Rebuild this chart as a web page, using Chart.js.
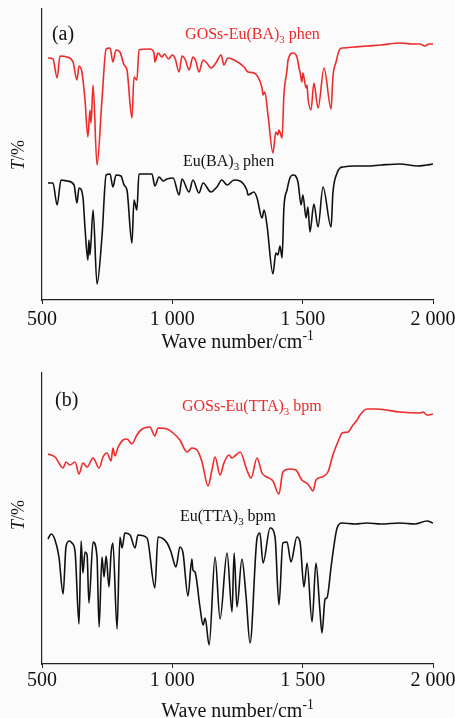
<!DOCTYPE html>
<html>
<head>
<meta charset="utf-8">
<script src="https://cdn.jsdelivr.net/npm/chart.js@4.4.0/dist/chart.umd.min.js"></script>
<style>
  html, body { margin: 0; padding: 0; background: #fbfbfb; }
  #wrap { position: relative; width: 455px; height: 718px; overflow: hidden; }
  canvas { position: absolute; left: 0; }
</style>
</head>
<body>
<div id="wrap">
  <canvas id="chartA" width="455" height="358" style="top:0px"></canvas>
  <canvas id="chartB" width="455" height="360" style="top:358px"></canvas>
</div>
<script>
// x ticks
const xTicks = [500, 1000, 1500, 2000];

// (a) GOSs-Eu(BA)3 phen
const redA_x = [523, 542, 558, 569, 596, 619, 634, 642, 653, 665, 676, 684, 688, 696, 711, 730, 746, 761, 772, 784,
  799, 815, 826, 845, 853, 864, 872, 914, 930, 933, 945, 960, 970, 985, 1000, 1010, 1026, 1037, 1050, 1064,
  1079, 1090, 1102, 1118, 1135, 1148, 1167, 1187, 1198, 1213, 1237, 1275, 1290, 1313, 1344, 1348, 1355, 1367, 1386, 1397,
  1405, 1409, 1421, 1428, 1440, 1444, 1463, 1478, 1486, 1490, 1497, 1501, 1513, 1517, 1520, 1532, 1543, 1559, 1582, 1609,
  1616, 1628, 1643, 1655, 1700, 1747, 1800, 1873, 1920, 1950, 1969, 1985, 2000];
const redA_y = [242, 241, 222, 244, 243, 238, 220, 234, 228, 200, 163, 190, 177, 215, 135, 200, 251, 252, 238, 250,
  248, 235, 230, 182, 223, 220, 250, 251, 247, 238, 247, 243, 246, 241, 245, 242, 228, 244, 240, 230,
  243, 239, 228, 240, 236, 232, 237, 245, 235, 242, 240, 233, 228, 227, 212, 205, 208, 185, 147, 168,
  165, 170, 162, 205, 230, 240, 247, 243, 232, 228, 218, 227, 212, 215, 203, 190, 217, 192, 232, 191,
  223, 238, 251, 252, 253, 254, 255, 257, 256, 256, 254, 256, 256];

// (a) Eu(BA)3 phen
const blackA_x = [523, 542, 558, 573, 596, 623, 634, 642, 657, 665, 676, 680, 684, 696, 711, 730, 746, 761, 772, 784,
  803, 815, 826, 845, 853, 864, 872, 922, 933, 949, 965, 980, 1003, 1026, 1037, 1064, 1079, 1102, 1118, 1148,
  1171, 1190, 1210, 1237, 1286, 1290, 1313, 1325, 1344, 1352, 1363, 1386, 1397, 1405, 1413, 1421, 1428, 1440, 1451, 1463,
  1482, 1494, 1501, 1513, 1520, 1528, 1543, 1559, 1578, 1609, 1616, 1632, 1643, 1655, 1700, 1747, 1800, 1873, 1942, 1975, 2000];
const blackA_y = [117, 117, 95, 120, 119, 115, 97, 112, 103, 72, 40, 60, 45, 90, 16, 63, 125, 126, 113, 125,
  124, 115, 110, 57, 100, 90, 126, 126, 114, 123, 119, 121, 122, 105, 121, 108, 120, 107, 117, 108,
  113, 120, 115, 120, 110, 105, 108, 102, 82, 90, 75, 26, 47, 45, 54, 42, 92, 110, 122, 125,
  118, 95, 105, 82, 93, 68, 96, 73, 113, 73, 107, 127, 132, 133, 134, 134, 135, 136, 134, 135, 136];

// (b) GOSs-Eu(TTA)3 bpm
const redB_x = [523, 550, 581, 592, 607, 627, 642, 657, 673, 696, 719, 734, 749, 765, 772, 780, 792, 811, 826, 845,
  864, 884, 914, 933, 945, 980, 1003, 1029, 1056, 1075, 1095, 1114, 1137, 1152, 1164, 1183, 1198, 1217, 1229, 1240,
  1260, 1286, 1302, 1325, 1344, 1363, 1386, 1409, 1424, 1451, 1474, 1497, 1520, 1540, 1551, 1574, 1597, 1616, 1643, 1651,
  1674, 1693, 1709, 1720, 1747, 1785, 1873, 1950, 1962, 1977, 2000];
const redB_y = [210, 207, 196, 202, 199, 202, 190, 201, 197, 206, 196, 207, 211, 203, 216, 208, 217, 224, 225, 220,
  229, 235, 237, 228, 236, 235, 231, 224, 212, 216, 214, 202, 178, 194, 207, 189, 201, 209, 206, 208,
  212, 194, 186, 206, 191, 187, 183, 170, 192, 195, 194, 184, 180, 173, 184, 187, 192, 209, 227, 231,
  232, 239, 244, 249, 255, 255, 252, 251, 252, 249, 250];

// (b) Eu(TTA)3 bpm
const blackB_x = [523, 535, 550, 565, 581, 592, 604, 615, 627, 642, 650, 657, 665, 673, 680, 696, 711, 719, 730, 738,
  746, 757, 765, 772, 788, 799, 807, 818, 838, 857, 868, 903, 933, 945, 980, 995, 1014, 1029, 1041, 1060,
  1075, 1079, 1087, 1106, 1118, 1126, 1141, 1164, 1183, 1210, 1229, 1237, 1248, 1267, 1283, 1298, 1325, 1336, 1348, 1375,
  1394, 1409, 1424, 1440, 1455, 1478, 1490, 1505, 1517, 1536, 1551, 1566, 1574, 1586, 1593, 1609, 1616, 1632, 1651, 1700,
  1747, 1800, 1873, 1930, 1977, 2000];
const blackB_y = [125, 130, 124, 107, 70, 117, 123, 121, 112, 40, 123, 91, 112, 109, 61, 122, 107, 37, 107, 87,
  108, 77, 111, 121, 35, 127, 116, 131, 129, 116, 129, 126, 76, 127, 121, 112, 97, 117, 111, 68,
  105, 94, 92, 57, 39, 46, 19, 107, 45, 111, 52, 111, 57, 105, 67, 21, 126, 131, 101, 136,
  127, 59, 121, 122, 102, 127, 122, 77, 101, 42, 101, 54, 31, 65, 66, 97, 111, 136, 141, 140,
  141, 140, 141, 140, 143, 141];

const SERIF = '"Liberation Serif", "Times New Roman", serif';

function fmtTick(v) {
  return String(v).replace(/\B(?=(\d{3})+(?!\d))/g, ' ');
}

function toPoints(xs, ys) {
  return xs.map((x, i) => ({ x: x, y: ys[i] }));
}

// draws text made of parts, some of them sub/superscript or italic
function drawRich(ctx, parts, x, y, size, color, align) {
  let total = 0;
  parts.forEach((p) => {
    const s = p.sub || p.sup ? size * 0.68 : size;
    p.font = (p.italic ? 'italic ' : '') + s + 'px ' + SERIF;
    ctx.font = p.font;
    p.w = ctx.measureText(p.t).width;
    total += p.w;
  });
  let cx = align === 'center' ? x - total / 2 : x;
  ctx.fillStyle = color;
  ctx.textAlign = 'left';
  ctx.textBaseline = 'alphabetic';
  parts.forEach((p) => {
    ctx.font = p.font;
    const dy = p.sub ? size * 0.25 : p.sup ? -size * 0.42 : 0;
    ctx.fillText(p.t, cx, y + dy);
    cx += p.w;
  });
}

const panelText = {
  id: 'panelText',
  afterDraw(chart, args, opts) {
    const ctx = chart.ctx;
    const xs = chart.scales.x;
    const ys = chart.scales.y;
    const area = chart.chartArea;
    ctx.save();
    opts.labels.forEach((l) => {
      drawRich(ctx, l.parts, xs.getPixelForValue(l.x), ys.getPixelForValue(l.y), l.size, l.color, 'left');
    });
    // y axis title
    ctx.save();
    ctx.translate(area.left - 24, ys.getPixelForValue(opts.yTitleAt));
    ctx.rotate(-Math.PI / 2);
    const yParts = [{ t: 'T', italic: true }, { t: '/%' }];
    drawRich(ctx, yParts, 0, 6, 18, '#111', 'center');
    ctx.restore();
    // x axis title
    const xParts = [{ t: 'Wave number/cm' }, { t: '-1', sup: true }];
    drawRich(ctx, xParts, (area.left + area.right) / 2, area.bottom + opts.xTitleOffset, 20, '#111', 'center');
    ctx.restore();
  }
};

function makeChart(id, datasets, axisHeight, tickPad, padTop, plotOpts) {
  return new Chart(document.getElementById(id), {
    type: 'line',
    data: { datasets: datasets },
    options: {
      responsive: false,
      animation: false,
      devicePixelRatio: 1,
      layout: { padding: { left: 42, right: 22, top: padTop, bottom: 0 } },
      elements: {
        point: { radius: 0 },
        line: { cubicInterpolationMode: 'monotone', borderWidth: 1.6, borderJoinStyle: 'round' }
      },
      plugins: { legend: { display: false }, tooltip: { enabled: false }, panelText: plotOpts },
      scales: {
        x: {
          type: 'linear',
          min: 500,
          max: 2000,
          afterBuildTicks: (s) => { s.ticks = xTicks.map((v) => ({ value: v })); },
          grid: { display: true, drawOnChartArea: false, drawTicks: true, tickLength: 4, color: '#222' },
          border: { display: true, color: '#222', width: 1.2 },
          ticks: {
            autoSkip: false,
            maxRotation: 0,
            padding: tickPad,
            color: '#111',
            font: { family: SERIF, size: 20 },
            callback: (v) => fmtTick(v)
          },
          afterFit: (s) => { s.height = axisHeight; s.paddingLeft = 0; s.paddingRight = 0; }
        },
        y: {
          min: 0,
          max: 291,
          grid: { display: false },
          ticks: { display: false },
          border: { display: true, color: '#222', width: 1.2 },
          afterFit: (s) => { s.width = 0; }
        }
      }
    },
    plugins: [panelText]
  });
}

const RED = '#ee2b2b';
const BLACK = '#111111';

makeChart('chartA', [
  { data: toPoints(redA_x, redA_y), borderColor: RED },
  { data: toPoints(blackA_x, blackA_y), borderColor: BLACK }
], 58, 4, 9, {
  labels: [
    { x: 538, y: 260, size: 20, color: '#111', parts: [{ t: '(a)' }] },
    { x: 1049, y: 261, size: 16, color: RED, parts: [{ t: 'GOSs-Eu(BA)' }, { t: '3', sub: true }, { t: ' phen' }] },
    { x: 1041, y: 134, size: 16, color: '#111', parts: [{ t: 'Eu(BA)' }, { t: '3', sub: true }, { t: ' phen' }] }
  ],
  yTitleAt: 145,
  xTitleOffset: 48
});

makeChart('chartB', [
  { data: toPoints(redB_x, redB_y), borderColor: RED },
  { data: toPoints(blackB_x, blackB_y), borderColor: BLACK }
], 54, 1, 15, {
  labels: [
    { x: 550, y: 258, size: 20, color: '#111', parts: [{ t: '(b)' }] },
    { x: 1037, y: 253, size: 16, color: RED, parts: [{ t: 'GOSs-Eu(TTA)' }, { t: '3', sub: true }, { t: ' bpm' }] },
    { x: 1029, y: 143, size: 16, color: '#111', parts: [{ t: 'Eu(TTA)' }, { t: '3', sub: true }, { t: ' bpm' }] }
  ],
  yTitleAt: 149,
  xTitleOffset: 53
});
</script>
</body>
</html>
